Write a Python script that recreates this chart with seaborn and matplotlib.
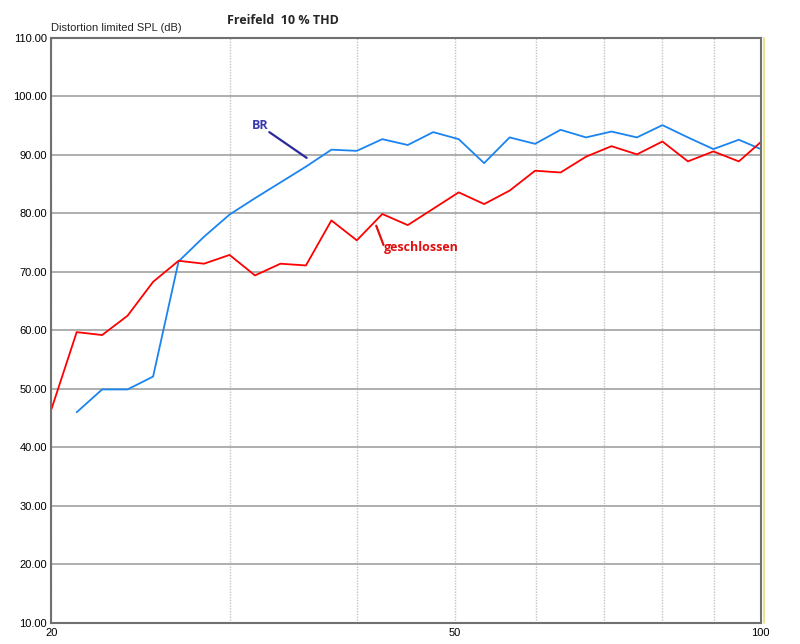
import matplotlib
matplotlib.use("Agg")
import matplotlib.pyplot as plt
from matplotlib.lines import Line2D
import numpy as np
import pandas as pd
import seaborn as sns

# 1/12 octave frequencies from 20 Hz
freq_br = [21.19, 22.45, 23.78, 25.20, 26.70, 28.28, 29.97, 31.75, 33.64, 35.64,
           37.76, 40.00, 42.38, 44.90, 47.57, 50.40, 53.39, 56.57, 59.93, 63.50,
           67.27, 71.27, 75.51, 80.00, 84.76, 89.80, 95.14, 100.0]
spl_br = [46.0, 49.9, 49.9, 52.1, 71.8, 76.0, 79.8, 82.6, 85.3, 88.0,
          90.9, 90.7, 92.7, 91.7, 93.9, 92.7, 88.6, 93.0, 91.9, 94.3,
          93.0, 94.0, 93.0, 95.1, 93.0, 91.0, 92.6, 91.0]

freq_cl = [20.0] + freq_br
spl_cl = [46.4, 59.7, 59.2, 62.5, 68.3, 71.9, 71.4, 72.9, 69.4, 71.4,
          71.1, 78.8, 75.4, 79.9, 78.0, 80.8, 83.6, 81.6, 83.9, 87.3,
          87.0, 89.7, 91.5, 90.1, 92.3, 88.9, 90.6, 88.9, 92.2]

y_ticks = np.arange(10, 111, 10)
x_grid = [20, 30, 40, 50, 60, 70, 80, 90, 100]
x_labels = ["20", "", "", "50", "", "", "", "", "100"]

df = pd.concat([
    pd.DataFrame({"f": freq_br, "spl": spl_br, "typ": "BR"}),
    pd.DataFrame({"f": freq_cl, "spl": spl_cl, "typ": "geschlossen"}),
])

sns.set_style("white")
plt.rcParams["font.family"] = ["Liberation Sans", "DejaVu Sans"]

fig = plt.figure(figsize=(8, 6.44), dpi=100)
ax = fig.add_axes([0.064, 0.033, 0.887, 0.908])

sns.lineplot(data=df, x="f", y="spl", hue="typ", sort=False, estimator=None,
             palette={"BR": "#1a84f0", "geschlossen": "#ff0000"},
             linewidth=1.3, legend=False, ax=ax)

ax.set_xscale("log")
ax.set_xlim(20, 100)
ax.set_ylim(10, 110)
ax.set_xticks(x_grid)
ax.set_xticklabels(x_labels)
ax.xaxis.set_minor_locator(matplotlib.ticker.NullLocator())
ax.set_yticks(y_ticks)
ax.set_yticklabels([f"{v:.2f}" for v in y_ticks])
ax.tick_params(length=0, labelsize=8, pad=3, colors="#000000")
ax.tick_params(axis="x", pad=4)
ax.set_xlabel("")
ax.set_ylabel("")

ax.grid(axis="y", color="#a8a8a8", linewidth=1.3, linestyle="-")
ax.grid(axis="x", color="#c4c4c4", linewidth=1.0, linestyle=(0, (1, 1)))
for s in ax.spines.values():
    s.set_color("#707070")
    s.set_linewidth(1.5)

# annotations
ax.text(32.1, 95.1, "BR", color="#3a3ab0", fontsize=9, fontweight="bold",
        family=["Open Sans", "DejaVu Sans"], ha="center", va="center")
ax.plot([32.8, 35.7], [93.9, 89.5], color="#2a2a9a", linewidth=1.6)
ax.text(46.3, 74.1, "geschlossen", color="#e01010", fontsize=9, fontweight="bold",
        family=["Open Sans", "DejaVu Sans"], ha="center", va="center")
ax.plot([41.8, 42.5], [77.9, 74.6], color="#e01010", linewidth=1.6)

fig.text(0.064, 0.957, "Distortion limited SPL (dB)", fontsize=8, ha="left", va="center")
fig.text(0.354, 0.968, "Freifeld  10 % THD", fontsize=9, fontweight="bold",
         family=["Open Sans", "DejaVu Sans"], ha="center", va="center")

# yellow edge line right of the plot
fig.add_artist(Line2D([0.955, 0.955], [0.033, 0.941], color="#e8e070", linewidth=1.2))

fig.savefig("out.png", dpi=100)
